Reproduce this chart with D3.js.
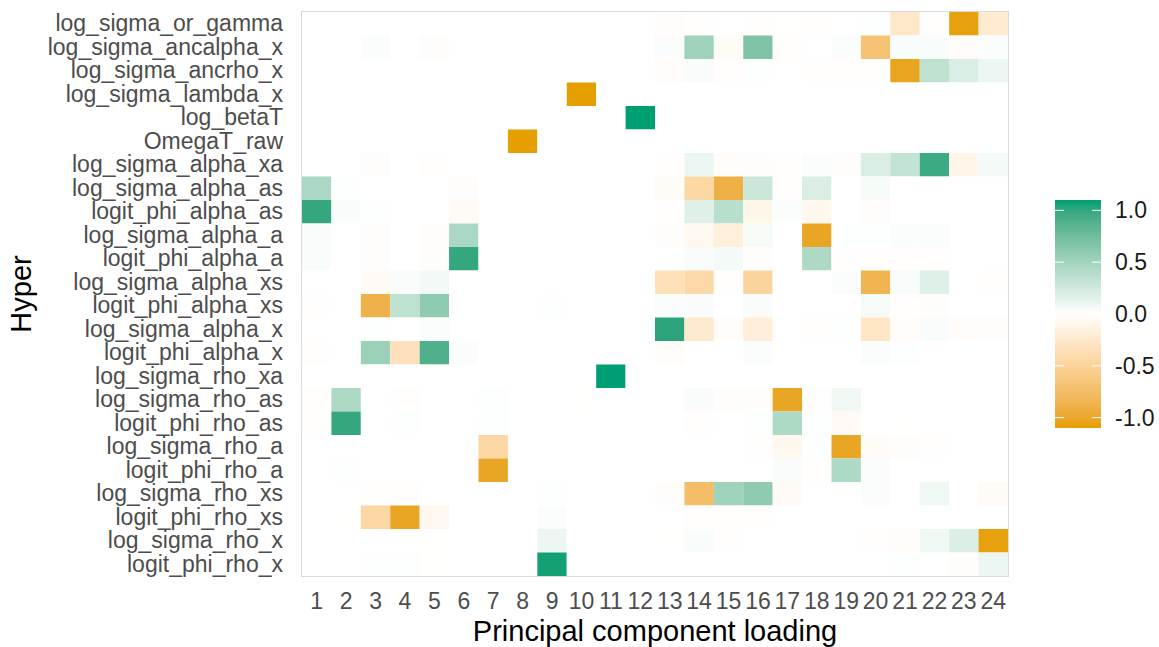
<!DOCTYPE html>
<html>
<head>
<meta charset="utf-8">
<script src="https://cdn.jsdelivr.net/npm/d3@7"></script>
<style>
  body { margin: 0; background: #fff; }
  svg { display: block; font-family: "Liberation Sans", Arial, sans-serif; }
</style>
</head>
<body>
<div id="chart"></div>
<script>
// hyperparameters, top to bottom
const hyper = [
    "log_sigma_or_gamma", "log_sigma_ancalpha_x", "log_sigma_ancrho_x", "log_sigma_lambda_x",
    "log_betaT", "OmegaT_raw", "log_sigma_alpha_xa", "log_sigma_alpha_as", "logit_phi_alpha_as",
    "log_sigma_alpha_a", "logit_phi_alpha_a", "log_sigma_alpha_xs", "logit_phi_alpha_xs",
    "log_sigma_alpha_x", "logit_phi_alpha_x", "log_sigma_rho_xa", "log_sigma_rho_as",
    "logit_phi_rho_as", "log_sigma_rho_a", "logit_phi_rho_a", "log_sigma_rho_xs",
    "logit_phi_rho_xs", "log_sigma_rho_x", "logit_phi_rho_x"
]
const components = d3.range(1, 25)
const legendTicks = [-1.0, -0.5, 0.0, 0.5, 1.0]

// loadings, one row per hyperparameter, one column per component
const loadings = [
    [0,0,0,0,0,0,0,0,0,0,0,0,-.03,-.01,0,-.01,-.005,-.01,0,.01,-.26,-.01,-1.08,-.22],
    [0,0,.02,0,-.02,0,0,0,0,0,0,0,.02,.51,-.04,.68,-.01,0,.02,-.68,.04,.04,-.03,.02],
    [0,0,0,0,0,0,0,0,0,0,0,0,-.03,.03,-.01,.01,0,-.01,-.01,-.01,-1.04,.35,.21,.1],
    [0,0,0,0,0,0,0,0,0,-1.1,0,.005,0,0,0,0,0,0,0,0,0,0,0,0],
    [0,0,0,0,0,0,0,0,0,.005,0,1.1,0,0,0,0,0,0,0,0,0,0,0,0],
    [0,0,0,0,0,0,0,-1.1,0,0,0,0,0,0,0,0,0,0,0,0,0,0,0,0],
    [0,0,-.02,0,-.01,0,0,0,0,0,0,0,-.01,.1,-.03,-.02,-.01,.02,-.02,.2,.32,.98,-.1,.06],
    [.45,.01,0,0,0,-.02,0,0,0,0,0,0,-.04,-.44,-.9,.28,-.01,.2,0,.05,0,0,0,0],
    [1.0,.03,.01,0,0,-.05,0,0,0,0,0,0,-.01,.17,.38,-.1,.02,-.08,0,-.02,0,0,0,0],
    [.03,0,-.02,0,-.02,.45,0,0,0,0,0,0,-.02,-.08,-.17,.05,0,-1.03,.01,.01,.02,.02,0,0],
    [.04,0,-.02,0,-.02,1.0,0,0,0,0,0,0,0,.03,.06,-.02,0,.44,-.01,-.01,-.01,-.01,0,0],
    [0,0,-.05,.03,.07,0,0,0,0,0,0,0,-.34,-.42,-.01,-.48,0,0,.02,-.85,.04,.17,.005,-.01],
    [-.01,0,-.88,.35,.6,0,0,0,.01,0,0,0,.02,.03,0,.03,0,0,0,.05,-.01,-.02,0,0],
    [0,0,.01,0,.02,0,0,0,0,0,0,0,1.03,-.23,-.03,-.18,0,-.01,.01,-.28,-.03,.04,-.03,-.02],
    [-.01,0,.53,-.33,.9,.02,0,0,0,0,0,0,-.03,0,0,.02,0,0,0,.02,.01,0,0,0],
    [0,0,0,0,0,0,0,0,0,0,1.1,0,0,0,0,0,0,0,0,0,0,0,0,0],
    [-.01,.44,0,-.01,0,0,.01,0,0,-.005,0,0,0,.03,-.02,-.02,-1.03,-.01,.08,0,0,0,0,0],
    [-.01,1.0,0,.01,0,0,.01,0,0,0,0,0,0,-.01,0,.01,.44,.01,-.05,0,-.005,0,0,0],
    [0,0,0,0,0,0,-.45,0,0,0,0,0,0,0,0,-.01,-.08,.01,-1.03,-.04,-.02,-.01,0,0],
    [0,.01,0,0,0,0,-1.03,0,0,0,0,0,0,0,0,0,.03,-.01,.44,.02,0,0,0,0],
    [0,0,-.01,-.01,0,0,0,0,.01,0,0,0,-.02,-.75,.51,.6,-.05,.005,-.005,.02,0,.08,0,-.04],
    [0,-.005,-.45,-1.03,-.08,0,0,0,.02,0,0,0,0,-.01,-.01,-.01,0,0,0,0,0,.005,0,0],
    [0,0,0,0,-.005,0,0,0,.1,0,0,0,-.005,.04,-.01,0,0,0,0,-.01,-.03,.08,.19,-1.08],
    [0,0,.01,.01,-.005,0,0,0,1.08,0,0,0,0,0,0,0,0,0,0,0,.01,.005,-.02,.1]
]

const width = 1159
const height = 647
const margin = ({top: 12, right: 151, bottom: 71, left: 302})

const cells = []
hyper.forEach((h, i) => {
    components.forEach((c, j) => cells.push({hyper: h, comp: c, value: loadings[i][j]}))
})

const color = d3.scaleLinear()
    .domain([-1.1, 0, 1.1])
    .range(["#E69F00", "#ffffff", "#009E73"])
    .interpolate(d3.interpolateLab)

const x = d3.scaleBand()
    .domain(components)
    .range([margin.left, width - margin.right])
const y = d3.scaleBand()
    .domain(hyper)
    .range([margin.top, height - margin.bottom])

const svg = d3.select("#chart").append("svg")
    .attr("width", width)
    .attr("height", height)

svg.append("g")
    .selectAll("rect")
    .data(cells)
    .join("rect")
    .attr("x", d => x(d.comp))
    .attr("y", d => y(d.hyper))
    .attr("width", x.bandwidth())
    .attr("height", y.bandwidth())
    .attr("fill", d => color(d.value))

// panel border
svg.append("rect")
    .attr("x", margin.left - 0.5)
    .attr("y", margin.top - 0.5)
    .attr("width", width - margin.right - margin.left + 1)
    .attr("height", height - margin.bottom - margin.top + 1)
    .attr("fill", "none")
    .attr("stroke", "#dadada")
    .attr("stroke-width", 1)

svg.append("g")
    .attr("transform", `translate(${margin.left},0)`)
    .call(d3.axisLeft(y).tickSize(0).tickPadding(19))
    .call(g => g.select(".domain").remove())
    .call(g => g.selectAll("text")
        .attr("font-size", 23)
        .attr("font-family", "Liberation Sans, Arial, sans-serif")
        .attr("fill", "#4d4d4d"))

svg.append("g")
    .attr("transform", `translate(0,${height - margin.bottom})`)
    .call(d3.axisBottom(x).tickSize(0).tickPadding(17))
    .call(g => g.select(".domain").remove())
    .call(g => g.selectAll("text")
        .attr("font-size", 23)
        .attr("font-family", "Liberation Sans, Arial, sans-serif")
        .attr("fill", "#4d4d4d"))

svg.append("text")
    .attr("x", (margin.left + width - margin.right) / 2)
    .attr("y", 641)
    .attr("text-anchor", "middle")
    .attr("font-size", 29)
    .text("Principal component loading")

svg.append("text")
    .attr("transform", `translate(31,${(margin.top + height - margin.bottom) / 2}) rotate(-90)`)
    .attr("text-anchor", "middle")
    .attr("font-size", 29)
    .text("Hyper")

// colour bar
const legend = ({x: 1055, top: 200, w: 46, h: 228})
const ly = d3.scaleLinear()
    .domain([1.1, -1.1])
    .range([legend.top, legend.top + legend.h])

const grad = svg.append("defs").append("linearGradient")
    .attr("id", "bar")
    .attr("x1", 0).attr("y1", 1).attr("x2", 0).attr("y2", 0)
grad.selectAll("stop")
    .data(d3.range(0, 1.0001, 0.05))
    .join("stop")
    .attr("offset", d => d)
    .attr("stop-color", d => color(-1.1 + 2.2 * d))

svg.append("rect")
    .attr("x", legend.x)
    .attr("y", legend.top)
    .attr("width", legend.w)
    .attr("height", legend.h)
    .attr("fill", "url(#bar)")

const lt = svg.append("g")
    .selectAll("g")
    .data(legendTicks)
    .join("g")
lt.append("line")
    .attr("x1", legend.x).attr("x2", legend.x + 9)
    .attr("y1", d => ly(d)).attr("y2", d => ly(d))
    .attr("stroke", "white").attr("stroke-width", 1)
lt.append("line")
    .attr("x1", legend.x + legend.w - 9).attr("x2", legend.x + legend.w)
    .attr("y1", d => ly(d)).attr("y2", d => ly(d))
    .attr("stroke", "white").attr("stroke-width", 1)
lt.append("text")
    .attr("x", 1115)
    .attr("y", d => ly(d))
    .attr("dy", "0.35em")
    .attr("font-size", 23)
    .attr("fill", "#1a1a1a")
    .text(d => d.toFixed(1))
</script>
</body>
</html>
